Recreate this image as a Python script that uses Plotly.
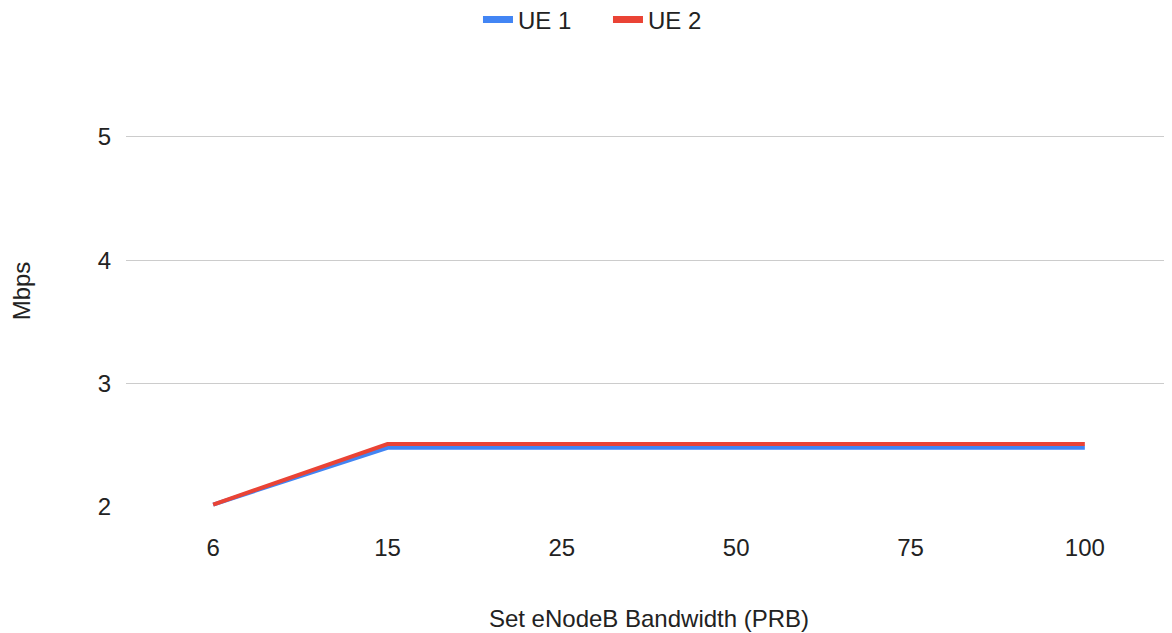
import plotly.graph_objects as go

categories = ["6", "15", "25", "50", "75", "100"]
ue1 = [2.02, 2.48, 2.48, 2.48, 2.48, 2.48]
ue2 = [2.02, 2.51, 2.51, 2.51, 2.51, 2.51]
series_names = ["UE 1", "UE 2"]
series_colors = ["#4285F4", "#EA4335"]

fig = go.Figure()
for name, vals, color in zip(series_names, [ue1, ue2], series_colors):
    fig.add_trace(go.Scatter(x=categories, y=vals, mode="lines", name=name,
                             line=dict(color=color, width=4), showlegend=False,
                             legendgroup=name))
    # legend entry with a thicker swatch, like the reference
    fig.add_trace(go.Scatter(x=[None], y=[None], mode="lines", name=name,
                             line=dict(color=color, width=7), legendgroup=name,
                             hoverinfo="skip"))

font = "Liberation Sans, Arial, sans-serif"
fig.update_layout(
    width=1172, height=633,
    margin=dict(l=118, r=8, t=67, b=134),
    paper_bgcolor="white", plot_bgcolor="white",
    font=dict(family=font, size=24, color="#222222"),
    legend=dict(orientation="h", xref="paper", x=0.3365, xanchor="left",
                yref="container", y=1 - 12 / 633, yanchor="middle",
                entrywidth=85, entrywidthmode="pixels",
                font=dict(size=24)),
    xaxis=dict(type="category", range=[-0.5, 5.5], showgrid=False, zeroline=False,
               showline=False, ticks="", tickfont=dict(size=24), ticklabelstandoff=24,
               title=dict(text="Set eNodeB Bandwidth (PRB)", font=dict(size=24), standoff=50)),
    yaxis=dict(range=[2, 5.5], tickvals=[2, 3, 4, 5], showgrid=True, gridcolor="#cccccc",
               gridwidth=1, zeroline=False, showline=False, ticks="",
               tickfont=dict(size=24), ticklabelstandoff=14,
               title=dict(text="Mbps", font=dict(size=24), standoff=64)),
)
fig.write_html("out.html")
